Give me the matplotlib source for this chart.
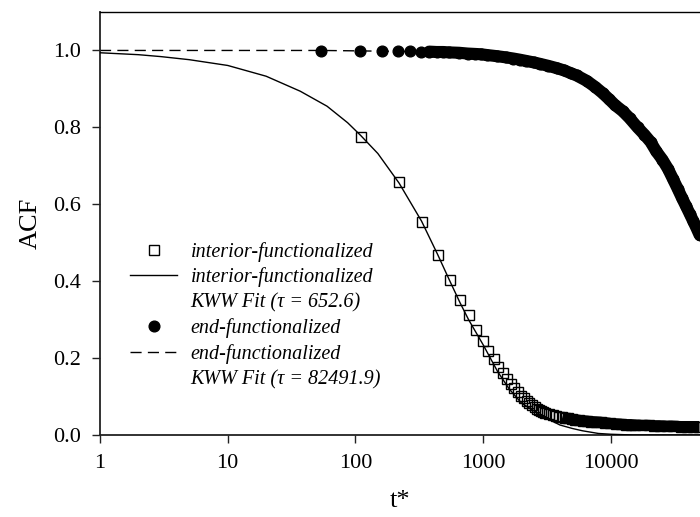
import numpy as np
import matplotlib
matplotlib.use("Agg")
import matplotlib.pyplot as plt
from matplotlib.ticker import FixedLocator, NullLocator, FixedFormatter

plt.rcParams['font.family'] = ['Liberation Serif', 'DejaVu Serif']

t_int = [110, 220, 330, 440, 550, 660, 770, 880, 990, 1100, 1210, 1320,
         1430, 1540, 1650, 1760, 1870, 1980, 2090, 2200, 2310, 2420, 2530,
         2640, 2750, 2860, 2970, 3080, 3300, 3520, 3740, 3960, 4180, 4400,
         4620, 4950, 5280, 5610, 6050, 6490, 7040, 7700, 8360, 9020, 9900,
         11000, 12100, 13200, 14300, 15400, 17600, 19800, 22000, 24200,
         27500, 30800, 35200, 39600, 44000, 49500]
acf_int = [0.776, 0.659, 0.555, 0.469, 0.404, 0.352, 0.311, 0.273, 0.245,
           0.219, 0.197, 0.177, 0.160, 0.145, 0.132, 0.121, 0.111, 0.102,
           0.095, 0.088, 0.082, 0.077, 0.072, 0.068, 0.065, 0.062, 0.059,
           0.057, 0.054, 0.052, 0.050, 0.048, 0.046, 0.044, 0.043, 0.041,
           0.040, 0.038, 0.037, 0.036, 0.035, 0.034, 0.033, 0.032, 0.030,
           0.029, 0.028, 0.027, 0.027, 0.026, 0.025, 0.025, 0.024, 0.024,
           0.023, 0.023, 0.022, 0.022, 0.022, 0.022]

# interior KWW fit curve
t_int_fit = [1, 2, 3, 5, 10, 20, 37, 60, 87, 110, 150, 220, 330, 440, 550,
             660, 770, 1000, 1300, 1600, 2000, 2500, 3000, 4000, 5000, 6000,
             8000, 10000, 15000, 50000]
acf_int_fit = [0.994, 0.989, 0.984, 0.976, 0.961, 0.933, 0.894, 0.855, 0.812,
               0.779, 0.732, 0.655, 0.556, 0.470, 0.400, 0.344, 0.300, 0.235,
               0.165, 0.120, 0.083, 0.063, 0.047, 0.026, 0.017, 0.011, 0.004,
               0.002, 0.0, 0.0]

t_end = [54, 108, 162, 216, 270, 324, 378, 432, 486, 540, 648, 756, 864,
         972, 1080, 1296, 1512, 1728, 1944, 2160, 2484, 2808, 3240, 3780,
         4320, 4860, 5400, 6480, 7560, 8640, 9720, 10800, 12420, 14040,
         16200, 18360, 20520, 22680, 25380, 28080, 30780, 33480, 36180,
         38880, 41580, 44280, 46980, 49680]
acf_end = [0.999, 0.999, 0.998, 0.998, 0.998, 0.997, 0.997, 0.996, 0.996,
           0.995, 0.994, 0.992, 0.991, 0.990, 0.988, 0.985, 0.982, 0.979,
           0.976, 0.973, 0.969, 0.965, 0.960, 0.954, 0.948, 0.941, 0.935,
           0.921, 0.905, 0.889, 0.873, 0.858, 0.842, 0.824, 0.800, 0.781,
           0.762, 0.738, 0.716, 0.692, 0.665, 0.640, 0.616, 0.595, 0.575,
           0.556, 0.538, 0.520]

# end KWW fit curve
t_end_fit = [1, 10, 54, 100, 300, 1000, 2000, 3000, 5000, 10000, 20000,
             30000, 50000]
acf_end_fit = [1.0, 1.0, 1.0, 0.999, 0.997, 0.990, 0.977, 0.964, 0.938,
               0.870, 0.765, 0.670, 0.520]

xticks = [1, 10, 100, 1000, 10000]
xtick_labels = ['1', '10', '100', '1000', '10000']
yticks = [0.0, 0.2, 0.4, 0.6, 0.8, 1.0]

fig = plt.figure(figsize=(7.0, 5.17), dpi=100)
ax = fig.add_axes([100 / 700, 82 / 517, 600 / 700, 423 / 517])

t_int_a = np.array(t_int)
acf_int_a = np.array(acf_int)
t_end_a = np.array(t_end)
acf_end_a = np.array(acf_end)

# dense parts of the series merge into a solid band
band = t_int_a >= 4180
ax.plot(t_int_a[band], acf_int_a[band], color='black', lw=8.0,
        solid_capstyle='butt', zorder=2)
ax.plot(t_int, acf_int, ls='none', marker='s', ms=6.8, mfc='none',
        mec='black', mew=1.0, zorder=3, label='interior-functionalized')
ax.plot(t_int_fit, acf_int_fit, color='black', lw=1.0, zorder=4,
        label='interior-functionalized')
ax.plot([], [], ls='none', label='KWW Fit (τ = 652.6)')

dense = t_end_a >= 378
ax.plot(t_end_a[dense], acf_end_a[dense], color='black', lw=8.7,
        solid_capstyle='round', zorder=3)
ax.plot(t_end_fit, acf_end_fit, color='black', lw=1.0, dashes=(8, 4.5),
        zorder=2, label='end-functionalized')
ax.plot(t_end, acf_end, ls='none', marker='o', ms=7.7, mfc='black',
        mec='black', zorder=3, label='end-functionalized')
ax.plot([], [], ls='none', label='KWW Fit (τ = 82491.9)')

ax.set_xscale('log')
ax.set_xlim(1, 50000)
ax.set_ylim(0, 1.1)
ax.xaxis.set_major_locator(FixedLocator(xticks))
ax.xaxis.set_major_formatter(FixedFormatter(xtick_labels))
ax.xaxis.set_minor_locator(NullLocator())
ax.set_yticks(yticks)
ax.set_yticklabels([f'{v:.1f}' for v in yticks])

ax.spines['right'].set_visible(False)
for s in ['left', 'bottom']:
    ax.spines[s].set_linewidth(1.3)
    ax.spines[s].set_color('#222222')
ax.spines['top'].set_linewidth(1.0)
ax.tick_params(direction='out', length=6, width=1.0, labelsize=16, pad=8,
               color='#222222')
ax.tick_params(axis='x', pad=8)
ax.tick_params(right=False, top=False)

ax.set_xlabel('t*', fontsize=19, labelpad=12)
ax.set_ylabel('ACF', fontsize=19, labelpad=8)

# legend order: squares, solid, blank, dots, dashed, blank
h, l = ax.get_legend_handles_labels()
order = [0, 1, 2, 4, 3, 5]
leg = ax.legend([h[i] for i in order], [l[i] for i in order],
                loc='upper left', bbox_to_anchor=(0.05, 0.457),
                frameon=False, numpoints=1, handlelength=2.35,
                handletextpad=0.65, labelspacing=0.29, borderpad=0,
                borderaxespad=0, prop={'style': 'italic', 'size': 14.5})

fig.savefig('out.png', dpi=100)
